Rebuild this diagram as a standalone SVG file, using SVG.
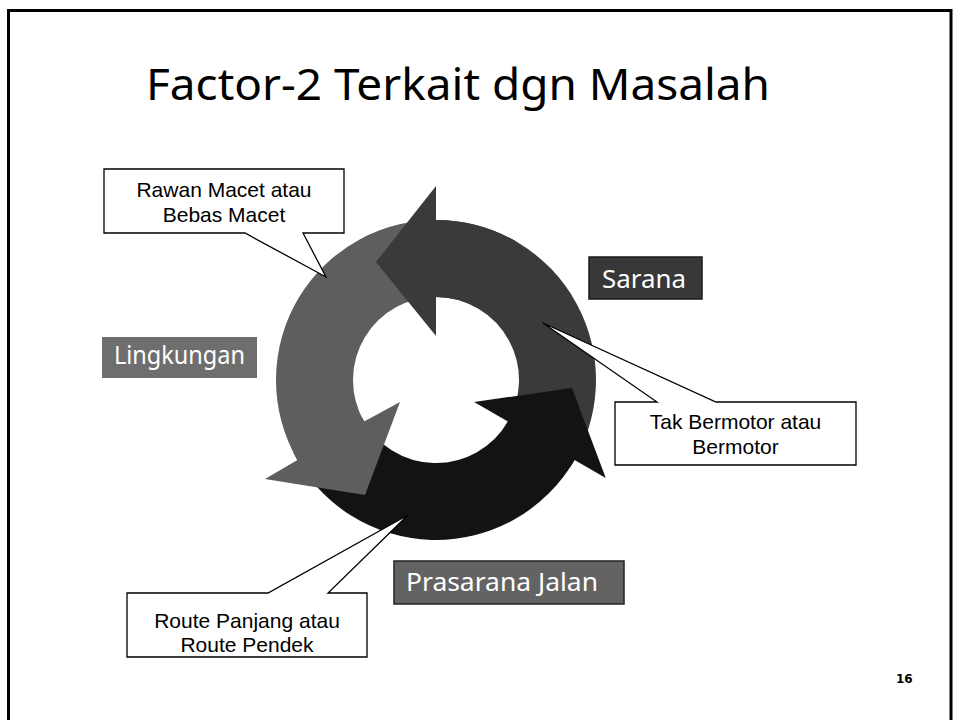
<svg xmlns="http://www.w3.org/2000/svg" width="956" height="720" viewBox="0 0 956 720">
<style>
  .frame { fill: none; stroke: #000; stroke-width: 3; }
  .title { font-family: "Comic Sans MS", "Noto Sans", "DejaVu Sans", sans-serif; font-size: 44px; fill: #000; }
  .lbl { font-family: "Comic Sans MS", "Noto Sans", "DejaVu Sans", sans-serif; font-size: 26px; fill: #fff; }
  .callout { fill: #fff; stroke: #000; stroke-width: 1.3; stroke-linejoin: miter; }
  .ctext { font-family: "Liberation Sans", Arial, sans-serif; font-size: 21px; fill: #000; text-anchor: middle; }
  .pg { font-family: "DejaVu Sans", "Liberation Sans", sans-serif; font-size: 12px; font-weight: bold; fill: #000; }
  .dark { fill: #3a3a3a; }
  .mid { fill: #5e5e5e; }
  .blk { fill: #131313; }
</style>
<rect class="frame" x="8.5" y="10.5" width="942.5" height="730"/>
<text class="title" x="146" y="100" textLength="624" lengthAdjust="spacingAndGlyphs">Factor-2 Terkait dgn Masalah</text>

<g id="cycle">
  <path id="arrow-sarana-body" class="dark" d="M436,220 A160,160 0 0 1 570.19,467.14 L505.61,425.20 A83,83 0 0 0 436,297 Z"/>
  <path id="arrow-prasarana" class="blk" d="M574.56,460 A160,160 0 0 1 293.44,452.64 L362.05,417.68 A83,83 0 0 0 507.88,421.5 L474.1,402 L572,388 L605.74,478 Z"/>
  <path id="arrow-lingkungan" class="mid" d="M297.44,460 A160,160 0 0 1 441.58,220.10 L438.90,297.05 A83,83 0 0 0 364.12,421.5 L400,402 L365,495 L265,479 Z"/>
  <path id="arrow-sarana-head" class="dark" d="M436,186 L376,262 L436,336 L436,297 A83,83 0 0 1 477.5,308.12 L516,241.44 A160,160 0 0 0 436,220 Z"/>
</g>

<g id="node-sarana">
  <rect x="589" y="257" width="113" height="42" fill="#383838" stroke="#1a1a1a" stroke-width="1.5"/>
  <text class="lbl" x="602" y="288" textLength="84" lengthAdjust="spacingAndGlyphs">Sarana</text>
</g>
<g id="node-lingkungan">
  <rect x="102" y="337" width="155" height="41" fill="#6e6e6e"/>
  <text class="lbl" x="114" y="364" textLength="131" lengthAdjust="spacingAndGlyphs">Lingkungan</text>
</g>
<g id="node-prasarana">
  <rect x="394" y="561" width="230" height="43" fill="#636363" stroke="#222" stroke-width="1.5"/>
  <text class="lbl" x="406" y="591" textLength="192" lengthAdjust="spacingAndGlyphs">Prasarana Jalan</text>
</g>

<g id="callout-rawan">
  <path class="callout" d="M104,169 H344 V233 H303 L326,277 L245,233 H104 Z"/>
  <text class="ctext" x="224" y="197">Rawan Macet atau</text>
  <text class="ctext" x="224" y="222">Bebas Macet</text>
</g>
<g id="callout-bermotor">
  <path class="callout" d="M615,402 H657 L543,323 L716,402 H856 V465 H615 Z"/>
  <text class="ctext" x="735.5" y="429">Tak Bermotor atau</text>
  <text class="ctext" x="735.5" y="454">Bermotor</text>
</g>
<g id="callout-route">
  <path class="callout" d="M127,593 H268 L408,515 L328,593 H367 V657 H127 Z"/>
  <text class="ctext" x="247" y="628">Route Panjang atau</text>
  <text class="ctext" x="247" y="652">Route Pendek</text>
</g>

<text class="pg" x="896" y="683">16</text>
</svg>
